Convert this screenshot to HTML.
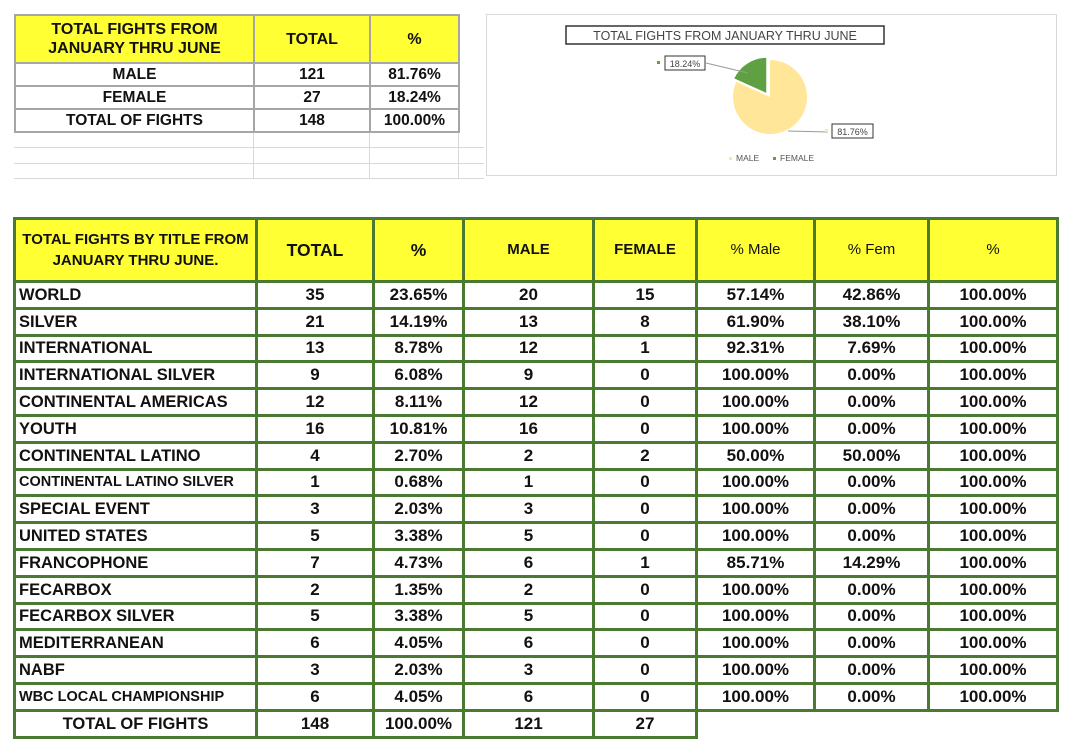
<!DOCTYPE html>
<html><head><meta charset="utf-8"><style>
body{margin:0;width:1079px;height:749px;background:#fff;position:relative;overflow:hidden;font-family:"Liberation Sans",sans-serif;}
.t1{position:absolute;left:14px;top:14px;border-collapse:collapse;table-layout:fixed;}
.t1 td{border:2px solid #a6a6a6;text-align:center;font-weight:bold;font-size:15.5px;padding:0;color:#111;line-height:18px;white-space:nowrap;}
.t1 .h td{background:#ffff33;height:46px;font-size:16px;line-height:19px;}
.t1 .r td{height:21px;}
.gl{position:absolute;height:1px;background:#d9d9d9;}
.gv{position:absolute;width:1px;background:#d9d9d9;}
.t2{position:absolute;left:13px;top:217px;border-collapse:collapse;table-layout:fixed;}
.t2 td{border:3px solid #4a7a2f;text-align:center;font-weight:bold;font-size:17px;padding:0;color:#111;white-space:nowrap;line-height:20px;overflow:hidden;}
.t2 .h td{background:#ffff33;height:60px;font-size:15px;}
.t2 .r td{height:23.8px;}
.t2 .r td:first-child{text-align:left;padding-left:3px;font-size:16.5px;}
.t2 td.nb{border:none;}
</style></head><body>
<div class="gl" style="left:14px;top:147px;width:470px"></div>
<div class="gl" style="left:14px;top:163px;width:470px"></div>
<div class="gl" style="left:14px;top:178px;width:470px"></div>
<div class="gv" style="left:253px;top:131px;height:48px"></div>
<div class="gv" style="left:369px;top:131px;height:48px"></div>
<div class="gv" style="left:458px;top:131px;height:48px"></div>
<table class="t1">
<colgroup><col style="width:239px"><col style="width:116px"><col style="width:89px"></colgroup>
<tr class="h"><td>TOTAL FIGHTS FROM<br>JANUARY THRU JUNE</td><td>TOTAL</td><td>%</td></tr>
<tr class="r"><td>MALE</td><td>121</td><td>81.76%</td></tr>
<tr class="r"><td>FEMALE</td><td>27</td><td>18.24%</td></tr>
<tr class="r"><td>TOTAL OF FIGHTS</td><td>148</td><td>100.00%</td></tr>
</table>
<svg style="position:absolute;left:486px;top:14px" width="572" height="163">
<rect x="0.5" y="0.5" width="570" height="161" fill="#fff" stroke="#d9d9d9"/>
<rect x="80" y="12" width="318" height="18" fill="#fff" stroke="#333" stroke-width="1.5"/>
<text x="239" y="26" text-anchor="middle" font-family="Liberation Sans" font-size="12.5" fill="#444">TOTAL FIGHTS FROM JANUARY THRU JUNE</text>
<path d="M284,83 L284,46 A37,37 0 1 1 250.3,67.8 Z" fill="#ffe699"/>
<path d="M281,80 L247.3,64.8 A37,37 0 0 1 281,43 Z" fill="#5fa043" stroke="#fff" stroke-width="1.5"/>
<polyline points="220,49 262,59" fill="none" stroke="#999"/>
<polyline points="302,117 342,118" fill="none" stroke="#999"/>
<rect x="171" y="47" width="3" height="3" fill="#5fa043"/>
<rect x="179" y="42" width="40" height="14" fill="#fff" stroke="#333"/>
<text x="199" y="53" text-anchor="middle" font-family="Liberation Sans" font-size="9" fill="#444">18.24%</text>
<rect x="339" y="115" width="3" height="3" fill="#ffe699"/>
<rect x="346" y="110" width="41" height="14" fill="#fff" stroke="#333"/>
<text x="366.5" y="121" text-anchor="middle" font-family="Liberation Sans" font-size="9" fill="#444">81.76%</text>
<rect x="243" y="143" width="3" height="3" fill="#ffe699"/>
<text x="250" y="147" font-family="Liberation Sans" font-size="8.5" fill="#555">MALE</text>
<rect x="287" y="143" width="3" height="3" fill="#5fa043"/>
<text x="294" y="147" font-family="Liberation Sans" font-size="8.5" fill="#555">FEMALE</text>
</svg>
<table class="t2">
<colgroup><col style="width:242px"><col style="width:117px"><col style="width:90px"><col style="width:130px"><col style="width:103px"><col style="width:118px"><col style="width:114px"><col style="width:129px"></colgroup>
<tr class="h"><td style="font-size:15px;line-height:21px">TOTAL FIGHTS BY TITLE FROM<br>JANUARY THRU JUNE.</td><td style="font-size:17.5px">TOTAL</td><td style="font-size:17.5px">%</td><td>MALE</td><td>FEMALE</td><td style="font-weight:normal">% Male</td><td style="font-weight:normal">% Fem</td><td style="font-weight:normal">%</td></tr>
<tr class="r"><td>WORLD</td><td>35</td><td>23.65%</td><td>20</td><td>15</td><td>57.14%</td><td>42.86%</td><td>100.00%</td></tr>
<tr class="r"><td>SILVER</td><td>21</td><td>14.19%</td><td>13</td><td>8</td><td>61.90%</td><td>38.10%</td><td>100.00%</td></tr>
<tr class="r"><td>INTERNATIONAL</td><td>13</td><td>8.78%</td><td>12</td><td>1</td><td>92.31%</td><td>7.69%</td><td>100.00%</td></tr>
<tr class="r"><td>INTERNATIONAL SILVER</td><td>9</td><td>6.08%</td><td>9</td><td>0</td><td>100.00%</td><td>0.00%</td><td>100.00%</td></tr>
<tr class="r"><td>CONTINENTAL AMERICAS</td><td>12</td><td>8.11%</td><td>12</td><td>0</td><td>100.00%</td><td>0.00%</td><td>100.00%</td></tr>
<tr class="r"><td>YOUTH</td><td>16</td><td>10.81%</td><td>16</td><td>0</td><td>100.00%</td><td>0.00%</td><td>100.00%</td></tr>
<tr class="r"><td>CONTINENTAL LATINO</td><td>4</td><td>2.70%</td><td>2</td><td>2</td><td>50.00%</td><td>50.00%</td><td>100.00%</td></tr>
<tr class="r"><td style="font-size:14.5px">CONTINENTAL LATINO SILVER</td><td>1</td><td>0.68%</td><td>1</td><td>0</td><td>100.00%</td><td>0.00%</td><td>100.00%</td></tr>
<tr class="r"><td>SPECIAL EVENT</td><td>3</td><td>2.03%</td><td>3</td><td>0</td><td>100.00%</td><td>0.00%</td><td>100.00%</td></tr>
<tr class="r"><td>UNITED STATES</td><td>5</td><td>3.38%</td><td>5</td><td>0</td><td>100.00%</td><td>0.00%</td><td>100.00%</td></tr>
<tr class="r"><td>FRANCOPHONE</td><td>7</td><td>4.73%</td><td>6</td><td>1</td><td>85.71%</td><td>14.29%</td><td>100.00%</td></tr>
<tr class="r"><td>FECARBOX</td><td>2</td><td>1.35%</td><td>2</td><td>0</td><td>100.00%</td><td>0.00%</td><td>100.00%</td></tr>
<tr class="r"><td>FECARBOX SILVER</td><td>5</td><td>3.38%</td><td>5</td><td>0</td><td>100.00%</td><td>0.00%</td><td>100.00%</td></tr>
<tr class="r"><td>MEDITERRANEAN</td><td>6</td><td>4.05%</td><td>6</td><td>0</td><td>100.00%</td><td>0.00%</td><td>100.00%</td></tr>
<tr class="r"><td>NABF</td><td>3</td><td>2.03%</td><td>3</td><td>0</td><td>100.00%</td><td>0.00%</td><td>100.00%</td></tr>
<tr class="r"><td style="font-size:14.5px">WBC LOCAL CHAMPIONSHIP</td><td>6</td><td>4.05%</td><td>6</td><td>0</td><td>100.00%</td><td>0.00%</td><td>100.00%</td></tr>
<tr class="r"><td style="text-align:center;padding-left:0">TOTAL OF FIGHTS</td><td>148</td><td>100.00%</td><td>121</td><td>27</td><td class="nb"></td><td class="nb"></td><td class="nb"></td></tr>
</table>
</body></html>
